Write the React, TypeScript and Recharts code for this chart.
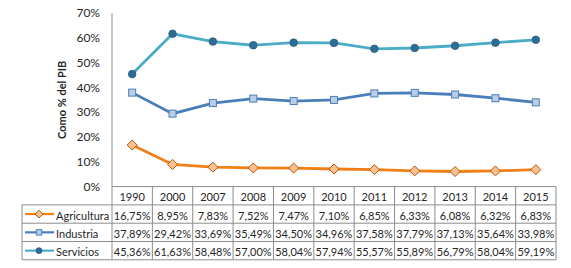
import React from 'react';
import { LineChart, Line, XAxis, YAxis } from 'recharts';

const years = ['1990', '2000', '2007', '2008', '2009', '2010', '2011', '2012', '2013', '2014', '2015'];
const agricultura = [16.75, 8.95, 7.83, 7.52, 7.47, 7.1, 6.85, 6.33, 6.08, 6.32, 6.83];
const industria = [37.89, 29.42, 33.69, 35.49, 34.5, 34.96, 37.58, 37.79, 37.13, 35.64, 33.98];
const servicios = [45.36, 61.63, 58.48, 57.0, 58.04, 57.94, 55.57, 55.89, 56.79, 58.04, 59.19];
const yTicks = [0, 10, 20, 30, 40, 50, 60, 70];
const seriesNames = ['Agricultura', 'Industria', 'Servicios'];
const seriesValues = [agricultura, industria, servicios];

const data = years.map((y, i) => ({
  year: y,
  Agricultura: agricultura[i],
  Industria: industria[i],
  Servicios: servicios[i],
}));

const W = 571;
const H = 268;
const margin = { top: 13, right: 15, bottom: 8, left: 0 };
const yAxisWidth = 112;
const plotW = W - margin.left - margin.right - yAxisWidth;
const colW = plotW / years.length;
const rowH = 18.3;
const legendW = 90;
const FONT = 'Lato, "Open Sans", sans-serif';
const GRID = '#8c8c8c';
const TEXT = '#262626';

const colors = {
  Agricultura: { line: '#F07F16', fill: '#FAC090', stroke: '#B65708' },
  Industria: { line: '#4A7EBB', fill: '#B9CDE5', stroke: '#4A7EBB' },
  Servicios: { line: '#4BACC6', fill: '#2E6E96', stroke: '#2A5A80' },
};

const fmt = (v: number) => v.toFixed(2).replace('.', ',') + '%';

const Marker = ({ name, cx, cy, s = 1 }: { name: string; cx: number; cy: number; s?: number }) => {
  const c = (colors as any)[name];
  if (name === 'Agricultura') {
    const r = 5 * s;
    return (
      <path
        d={`M${cx},${cy - r}L${cx + r},${cy}L${cx},${cy + r}L${cx - r},${cy}Z`}
        fill={c.fill}
        stroke={c.stroke}
        strokeWidth={1}
      />
    );
  }
  if (name === 'Industria') {
    const r = 3.5 * s;
    return <rect x={cx - r} y={cy - r} width={2 * r} height={2 * r} fill={c.fill} stroke={c.stroke} strokeWidth={1} />;
  }
  return <circle cx={cx} cy={cy} r={3.8 * s} fill={c.fill} stroke={c.stroke} strokeWidth={0.8} />;
};

const makeDot = (name: string) => (props: any) => {
  const { cx, cy, index } = props;
  if (cx == null || cy == null) return <g key={index} />;
  return (
    <g key={`${name}-${index}`}>
      <Marker name={name} cx={cx} cy={cy} />
    </g>
  );
};

const TableTick = (props: any) => {
  const { x, y, payload } = props;
  const i = payload.index;
  const left = x - colW / 2;
  const right = x + colW / 2;
  const bottom = y + rowH * 4;
  const items: React.ReactNode[] = [];
  items.push(
    <text key="h" x={x} y={y + rowH / 2 + 1} textAnchor="middle" dominantBaseline="central" fontSize={11} fontFamily={FONT} fill={TEXT}>
      {payload.value}
    </text>
  );
  seriesValues.forEach((vals, r) => {
    items.push(
      <text
        key={`v${r}`}
        x={x}
        y={y + rowH * (r + 1.5) + 1}
        textAnchor="middle"
        dominantBaseline="central"
        fontSize={11}
        fontFamily={FONT}
        fill={TEXT}
      >
        {fmt(vals[i])}
      </text>
    );
  });
  items.push(<line key="vr" x1={right} x2={right} y1={y} y2={bottom} stroke={GRID} strokeWidth={1} />);
  for (let r = 1; r <= 4; r++) {
    items.push(<line key={`hl${r}`} x1={left} x2={right} y1={y + rowH * r} y2={y + rowH * r} stroke={GRID} strokeWidth={1} />);
  }
  if (i === 0) {
    items.push(<line key="vl" x1={left} x2={left} y1={y} y2={bottom} stroke={GRID} strokeWidth={1} />);
    const lx = left - legendW;
    items.push(<line key="lvl" x1={lx} x2={lx} y1={y + rowH} y2={bottom} stroke={GRID} strokeWidth={1} />);
    for (let r = 1; r <= 4; r++) {
      items.push(<line key={`lhl${r}`} x1={lx} x2={left} y1={y + rowH * r} y2={y + rowH * r} stroke={GRID} strokeWidth={1} />);
    }
    seriesNames.forEach((name, r) => {
      const cy = y + rowH * (r + 1.5);
      const c = (colors as any)[name];
      items.push(
        <g key={`lg${r}`}>
          <line x1={lx + 3} x2={lx + 32} y1={cy} y2={cy} stroke={c.line} strokeWidth={2.2} />
          <Marker name={name} cx={lx + 17} cy={cy} s={0.78} />
          <text x={lx + 34} y={cy + 1} dominantBaseline="central" fontSize={11} fontFamily={FONT} fill={TEXT}>
            {name}
          </text>
        </g>
      );
    });
  }
  return <g>{items}</g>;
};

const YLabel = (props: any) => {
  const vb = props.viewBox || {};
  const cx = (vb.x || 0) + 62;
  const cy = (vb.y || 0) + (vb.height || 0) / 2;
  return (
    <text
      x={cx}
      y={cy}
      transform={`rotate(-90, ${cx}, ${cy})`}
      textAnchor="middle"
      dominantBaseline="central"
      fontSize={11}
      fontWeight="bold"
      fontFamily={FONT}
      fill={TEXT}
    >
      Como % del PIB
    </text>
  );
};

export default function App() {
  return (
    <div style={{ position: 'absolute', left: 0, top: 0, width: W, height: H, background: '#fff' }}>
      <LineChart width={W} height={H} data={data} margin={margin}>
        <XAxis
          dataKey="year"
          interval={0}
          padding={{ left: colW / 2, right: colW / 2 }}
          axisLine={{ stroke: GRID }}
          tickLine={false}
          tickSize={0}
          tickMargin={0}
          height={H - margin.top - margin.bottom - 173.6}
          tick={<TableTick />}
        />
        <YAxis
          width={yAxisWidth}
          domain={[0, 70]}
          ticks={yTicks}
          tickFormatter={(v: number) => `${v}%`}
          axisLine={{ stroke: GRID }}
          tickLine={false}
          tickSize={0}
          tickMargin={12}
          tick={{ fontSize: 12, fontFamily: FONT, fill: TEXT }}
          label={{ content: <YLabel /> }}
        />
        {seriesNames.map((name) => (
          <Line
            key={name}
            type="linear"
            dataKey={name}
            stroke={(colors as any)[name].line}
            strokeWidth={2.8}
            dot={makeDot(name)}
            activeDot={false}
            isAnimationActive={false}
          />
        ))}
      </LineChart>
    </div>
  );
}
